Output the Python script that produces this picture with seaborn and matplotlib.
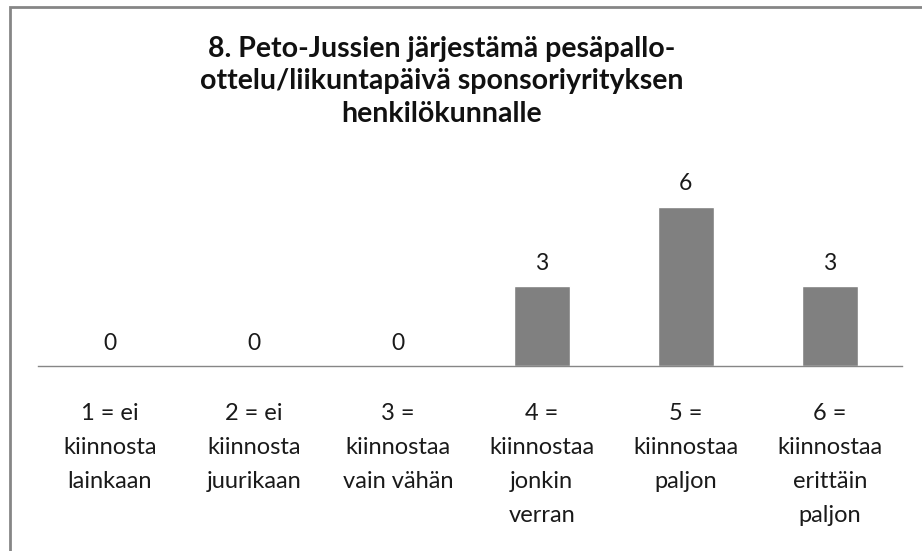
import matplotlib
matplotlib.use("Agg")
import matplotlib.pyplot as plt
import seaborn as sns
import pandas as pd
from matplotlib.patches import Rectangle

TITLE = "8. Peto-Jussien järjestämä pesäpallo-\nottelu/liikuntapäivä sponsoriyrityksen\nhenkilökunnalle"
categories = [
    "1 = ei\nkiinnosta\nlainkaan",
    "2 = ei\nkiinnosta\njuurikaan",
    "3 =\nkiinnostaa\nvain vähän",
    "4 =\nkiinnostaa\njonkin\nverran",
    "5 =\nkiinnostaa\npaljon",
    "6 =\nkiinnostaa\nerittäin\npaljon",
]
counts = [0, 0, 0, 3, 6, 3]

sns.set_theme(style="white")
plt.rcParams["font.family"] = ["Lato", "DejaVu Sans"]

df = pd.DataFrame({"cat": categories, "n": counts})

fig = plt.figure(figsize=(9.22, 5.51), dpi=100)
ax = fig.add_axes([0.041, 0.3358, 0.937, 0.337])
sns.barplot(data=df, x="cat", y="n", color="#808080", saturation=1, width=0.39, ax=ax)
ax.set_ylim(0, 7)
ax.set_xlim(-0.5, len(categories) - 0.5)

for i, v in enumerate(counts):
    ax.annotate(str(v), (i, v), xytext=(0, 16.5), textcoords="offset points",
                ha="center", va="center", fontsize=16.5, color="#1a1a1a")

ax.set_xlabel("")
ax.set_ylabel("")
ax.set_yticks([])
ax.tick_params(axis="x", length=0, pad=27, labelsize=17, labelcolor="#1a1a1a")
for lbl in ax.get_xticklabels():
    lbl.set_linespacing(1.75)
    lbl.set_va("top")
for s in ["top", "left", "right"]:
    ax.spines[s].set_visible(False)
ax.spines["bottom"].set_color("#868686")
ax.spines["bottom"].set_linewidth(1.0)

fig.text(0.479, 0.934, TITLE, ha="center", va="top", fontsize=20.5, fontweight="bold",
         linespacing=1.29, color="#111111")

fig.patches.append(Rectangle((10 / 922, -0.05), 1.1, 1.05 - 7 / 551, transform=fig.transFigure,
                             fill=False, edgecolor="#868686", linewidth=2.0))

fig.savefig("out.png", dpi=100)
